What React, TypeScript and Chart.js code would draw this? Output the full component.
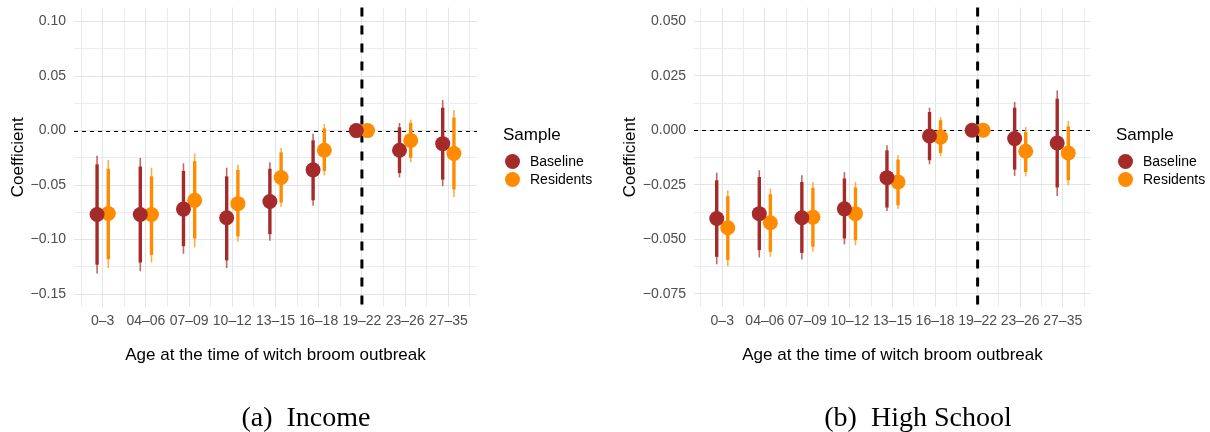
import React, { useEffect, useRef } from 'react';
import { Chart, registerables } from 'chart.js';

Chart.register(...registerables);

// ---------- data ----------
const categories = ['0–3', '04–06', '07–09', '10–12', '13–15', '16–18', '19–22', '23–26', '27–35'];
const seriesNames = ['Baseline', 'Residents'];
const seriesColors = ['#A52A2A', '#FF8C00'];
const referenceCategory = '19–22';

// (a) Income
const incomeBaselineEst = [-0.077, -0.077, -0.072, -0.080, -0.065, -0.036, 0, -0.018, -0.012];
const incomeBaselineLo95 = [-0.131, -0.129, -0.113, -0.126, -0.101, -0.069, 0, -0.043, -0.051];
const incomeBaselineHi95 = [-0.023, -0.025, -0.030, -0.034, -0.029, -0.003, 0, 0.007, 0.028];
const incomeBaselineLo90 = [-0.123, -0.121, -0.106, -0.119, -0.095, -0.064, 0, -0.039, -0.045];
const incomeBaselineHi90 = [-0.031, -0.033, -0.037, -0.042, -0.035, -0.009, 0, 0.003, 0.021];

const incomeResidentsEst = [-0.076, -0.077, -0.064, -0.067, -0.043, -0.018, 0, -0.009, -0.021];
const incomeResidentsLo95 = [-0.126, -0.121, -0.107, -0.102, -0.070, -0.041, 0, -0.029, -0.061];
const incomeResidentsHi95 = [-0.027, -0.034, -0.021, -0.031, -0.016, 0.006, 0, 0.010, 0.019];
const incomeResidentsLo90 = [-0.118, -0.114, -0.099, -0.097, -0.066, -0.037, 0, -0.025, -0.054];
const incomeResidentsHi90 = [-0.035, -0.042, -0.028, -0.036, -0.020, 0.002, 0, 0.007, 0.012];

// (b) High School
const schoolBaselineEst = [-0.0404, -0.0382, -0.0401, -0.0360, -0.0217, -0.0026, 0, -0.0038, -0.0058];
const schoolBaselineLo95 = [-0.0614, -0.0583, -0.0592, -0.0523, -0.0370, -0.0156, 0, -0.0209, -0.0301];
const schoolBaselineHi95 = [-0.0194, -0.0183, -0.0206, -0.0192, -0.0069, 0.0104, 0, 0.0130, 0.0183];
const schoolBaselineLo90 = [-0.0580, -0.0549, -0.0562, -0.0496, -0.0354, -0.0137, 0, -0.0180, -0.0262];
const schoolBaselineHi90 = [-0.0229, -0.0214, -0.0237, -0.0221, -0.0092, 0.0084, 0, 0.0104, 0.0145];

const schoolResidentsEst = [-0.0447, -0.0424, -0.0398, -0.0382, -0.0237, -0.0031, 0, -0.0096, -0.0104];
const schoolResidentsLo95 = [-0.0623, -0.0580, -0.0557, -0.0527, -0.0360, -0.0119, 0, -0.0211, -0.0252];
const schoolResidentsHi95 = [-0.0275, -0.0267, -0.0237, -0.0237, -0.0114, 0.0061, 0, 0.0015, 0.0043];
const schoolResidentsLo90 = [-0.0595, -0.0557, -0.0534, -0.0504, -0.0343, -0.0104, 0, -0.0191, -0.0229];
const schoolResidentsHi90 = [-0.0302, -0.0293, -0.0264, -0.0262, -0.0134, 0.0046, 0, -0.0008, 0.0018];

// tick labels / axis limits
const incomeYMajorTicks = [-0.15, -0.10, -0.05, 0, 0.05, 0.10];
const incomeYMinorTicks = [-0.125, -0.075, -0.025, 0.025, 0.075];
const incomeYLimits = [-0.1618, 0.1129];
const schoolYMajorTicks = [-0.075, -0.05, -0.025, 0, 0.025, 0.05];
const schoolYMinorTicks = [-0.0625, -0.0375, -0.0125, 0.0125, 0.0375];
const schoolYLimits = [-0.0810, 0.0563];

const xAxisTitle = 'Age at the time of witch broom outbreak';
const yAxisTitle = 'Coefficient';
const legendTitle = 'Sample';
const captions = ['(a)\u2002Income', '(b)\u2002High School'];

// ---------- chart ----------
const SANS = '"Liberation Sans", Arial, Helvetica, sans-serif';
const DODGE = 0.13;

type Series = { est: number[]; lo95: number[]; hi95: number[]; lo90: number[]; hi90: number[]; color: string; offset: number };

function makePointRangePlugin(series: Series[]) {
  return {
    id: 'pointrange',
    beforeDatasetsDraw(chart: any) {
      const { ctx, chartArea, scales } = chart;
      const x = scales.x;
      const y = scales.y;
      ctx.save();
      // horizontal reference line at zero
      const y0 = y.getPixelForValue(0);
      ctx.beginPath();
      ctx.setLineDash([4, 4]);
      ctx.lineWidth = 1;
      ctx.strokeStyle = '#000000';
      ctx.moveTo(chartArea.left, Math.round(y0) + 0.5);
      ctx.lineTo(chartArea.right, Math.round(y0) + 0.5);
      ctx.stroke();
      // vertical reference line
      const xv = x.getPixelForValue(categories.indexOf(referenceCategory) + 1);
      ctx.beginPath();
      ctx.setLineDash([9, 9]);
      ctx.lineWidth = 3;
      ctx.moveTo(xv, chartArea.top);
      ctx.lineTo(xv, chartArea.bottom);
      ctx.stroke();
      ctx.setLineDash([]);
      ctx.lineCap = 'butt';
      // error bars
      series.forEach((s) => {
        s.est.forEach((_, i) => {
          const px = x.getPixelForValue(i + 1 + s.offset);
          ctx.strokeStyle = s.color;
          ctx.globalAlpha = 0.7;
          ctx.lineWidth = 1.6;
          ctx.beginPath();
          ctx.moveTo(px, y.getPixelForValue(s.lo95[i]));
          ctx.lineTo(px, y.getPixelForValue(s.hi95[i]));
          ctx.stroke();
          ctx.globalAlpha = 1;
          ctx.lineWidth = 3.4;
          ctx.beginPath();
          ctx.moveTo(px, y.getPixelForValue(s.lo90[i]));
          ctx.lineTo(px, y.getPixelForValue(s.hi90[i]));
          ctx.stroke();
        });
      });
      ctx.restore();
    },
  };
}

type PanelProps = {
  series: Series[];
  majorTicks: number[];
  minorTicks: number[];
  limits: number[];
  decimals: number;
  yAxisWidth: number;
  rightPad: number;
  yTitlePad: number;
};

function Panel({ series, majorTicks, minorTicks, limits, decimals, yAxisWidth, rightPad, yTitlePad }: PanelProps) {
  const ref = useRef<HTMLCanvasElement>(null);
  useEffect(() => {
    const isMajorY = (v: number) => majorTicks.some((m) => Math.abs(m - v) < 1e-9);
    const yTicks = [...majorTicks, ...minorTicks].sort((a, b) => a - b);
    const xTicks: number[] = [];
    for (let i = 0; i <= categories.length; i++) {
      xTicks.push(i + 0.5);
      if (i < categories.length) xTicks.push(i + 1);
    }
    const chart = new Chart(ref.current as HTMLCanvasElement, {
      type: 'scatter',
      data: {
        datasets: series.map((s, si) => ({
          label: seriesNames[si],
          data: s.est.map((v, i) => ({ x: i + 1 + s.offset, y: v })),
          backgroundColor: s.color,
          borderColor: s.color,
          pointRadius: 7.5,
          pointHoverRadius: 7.5,
          pointBorderWidth: 0,
          borderWidth: 0,
          showLine: false,
        })),
      },
      options: {
        animation: false,
        responsive: false,
        events: [],
        layout: { padding: { top: 7, right: rightPad, bottom: 0, left: 0 } },
        plugins: { legend: { display: false }, tooltip: { enabled: false }, title: { display: false } },
        scales: {
          x: {
            type: 'linear',
            min: 0.336,
            max: 9.664,
            border: { display: false },
            grid: {
              drawTicks: false,
              color: (c: any) => (Number.isInteger(c.tick.value) ? '#e4e4e4' : '#ececec'),
              lineWidth: 1,
            },
            ticks: {
              autoSkip: false,
              maxRotation: 0,
              minRotation: 0,
              padding: 6,
              color: '#4d4d4d',
              font: { family: SANS, size: 14 },
              callback: (v: any) => (Number.isInteger(v) ? categories[v - 1] : ''),
            },
            afterBuildTicks: (scale: any) => {
              scale.ticks = xTicks.map((v) => ({ value: v }));
            },
            afterFit: (scale: any) => {
              scale.height = 125;
              scale.paddingLeft = 0;
              scale.paddingRight = 0;
            },
            title: {
              display: true,
              text: xAxisTitle,
              color: '#000000',
              font: { family: SANS, size: 17 },
              padding: { top: 0, bottom: 66 },
            },
          },
          y: {
            type: 'linear',
            min: limits[0],
            max: limits[1],
            border: { display: false },
            grid: {
              drawTicks: false,
              color: (c: any) => (isMajorY(c.tick.value) ? '#e4e4e4' : '#ececec'),
              lineWidth: 1,
            },
            ticks: {
              autoSkip: false,
              padding: 8,
              color: '#4d4d4d',
              font: { family: SANS, size: 14 },
              callback: (v: any) => (isMajorY(v) ? Number(v).toFixed(decimals).replace('-', '\u2212') : ''),
            },
            afterBuildTicks: (scale: any) => {
              scale.ticks = yTicks.map((v) => ({ value: v }));
            },
            afterFit: (scale: any) => {
              scale.width = yAxisWidth;
              scale.paddingTop = 0;
              scale.paddingBottom = 0;
            },
            title: {
              display: true,
              text: yAxisTitle,
              color: '#000000',
              font: { family: SANS, size: 17 },
              padding: { top: yTitlePad, bottom: 0 },
            },
          },
        },
      },
      plugins: [makePointRangePlugin(series)],
    } as any);
    return () => chart.destroy();
  }, []);
  return <canvas ref={ref} width={605} height={432} style={{ display: 'block', width: 605, height: 432 }} />;
}

function Legend({ left }: { left: number }) {
  return (
    <div style={{ position: 'absolute', left: 0, top: 0, fontFamily: SANS }}>
      <div style={{ position: 'absolute', left: left, top: 125, height: 20, lineHeight: '20px', fontSize: 17, color: '#000', whiteSpace: 'nowrap' }}>
        {legendTitle}
      </div>
      {seriesNames.map((name, i) => (
        <React.Fragment key={name}>
          <div
            style={{
              position: 'absolute',
              left: left + 1.5,
              top: 153.5 + i * 18,
              width: 15,
              height: 15,
              borderRadius: '50%',
              background: seriesColors[i],
            }}
          />
          <div
            style={{
              position: 'absolute',
              left: left + 27,
              top: 153.4 + i * 18,
              height: 16,
              lineHeight: '16px',
              fontSize: 14,
              color: '#000',
              whiteSpace: 'nowrap',
            }}
          >
            {name}
          </div>
        </React.Fragment>
      ))}
    </div>
  );
}

export default function App() {
  const incomeSeries: Series[] = [
    { est: incomeBaselineEst, lo95: incomeBaselineLo95, hi95: incomeBaselineHi95, lo90: incomeBaselineLo90, hi90: incomeBaselineHi90, color: seriesColors[0], offset: -DODGE },
    { est: incomeResidentsEst, lo95: incomeResidentsLo95, hi95: incomeResidentsHi95, lo90: incomeResidentsLo90, hi90: incomeResidentsHi90, color: seriesColors[1], offset: DODGE },
  ];
  const schoolSeries: Series[] = [
    { est: schoolBaselineEst, lo95: schoolBaselineLo95, hi95: schoolBaselineHi95, lo90: schoolBaselineLo90, hi90: schoolBaselineHi90, color: seriesColors[0], offset: -DODGE },
    { est: schoolResidentsEst, lo95: schoolResidentsLo95, hi95: schoolResidentsHi95, lo90: schoolResidentsLo90, hi90: schoolResidentsHi90, color: seriesColors[1], offset: DODGE },
  ];
  const captionStyle: React.CSSProperties = {
    position: 'absolute',
    top: 401,
    width: 400,
    height: 32,
    lineHeight: '32px',
    fontSize: 28,
    fontFamily: '"Liberation Serif", "DejaVu Serif", serif',
    textAlign: 'center',
    color: '#000',
    whiteSpace: 'pre',
  };
  return (
    <div style={{ position: 'fixed', left: 0, top: 0, width: 1210, height: 432, background: '#fff', overflow: 'hidden' }}>
      <div style={{ position: 'absolute', left: 0, top: 0 }}>
        <Panel series={incomeSeries} majorTicks={incomeYMajorTicks} minorTicks={incomeYMinorTicks} limits={incomeYLimits} decimals={2} yAxisWidth={74} rightPad={128} yTitlePad={7.8} />
      </div>
      <div style={{ position: 'absolute', left: 605, top: 0 }}>
        <Panel series={schoolSeries} majorTicks={schoolYMajorTicks} minorTicks={schoolYMinorTicks} limits={schoolYLimits} decimals={3} yAxisWidth={89} rightPad={119} yTitlePad={15.3} />
      </div>
      <Legend left={503} />
      <Legend left={1116} />
      <div style={{ ...captionStyle, left: 306 - 200 }}>{captions[0]}</div>
      <div style={{ ...captionStyle, left: 918 - 200 }}>{captions[1]}</div>
    </div>
  );
}
